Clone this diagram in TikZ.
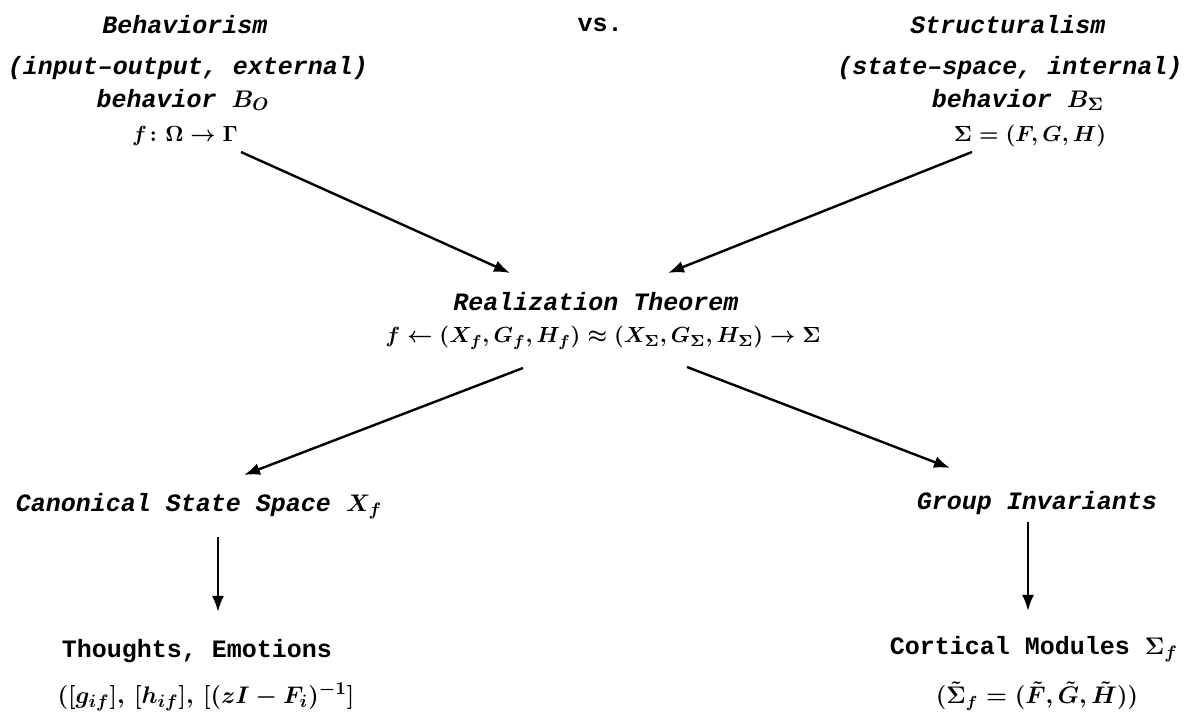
\documentclass[tikz,border=0pt]{standalone}
\usepackage[no-math]{fontspec}
\setmainfont{Liberation Mono}
\usepackage{amsmath,amssymb}
\usetikzlibrary{arrows.meta}

\begin{document}
\begin{tikzpicture}[x=0.5pt, y=-0.5pt,
  >={Latex[length=8pt, width=6pt]},
  hd/.style={font=\fontsize{12.5}{15}\selectfont\bfseries\itshape\boldmath, inner sep=0pt},
  tx/.style={font=\fontsize{12.5}{15}\selectfont\bfseries\boldmath, inner sep=0pt},
  fm/.style={font=\fontsize{#1}{13}\selectfont\boldmath, inner sep=0pt},
  fm/.default=11,
  arr/.style={->, line width=1.2pt},
]
\useasboundingbox (0,0) rectangle (1184,716);

% Top row: the two views
\node[hd] (behav) at (185,25) {Behaviorism};
\node[tx] (vs) at (600,25) {vs.};
\node[hd] (struct) at (1008,25) {Structuralism};

\node[hd] (behavio) at (188,68) {(input–output, external)};
\node[hd] (behavb) at (183,100) {behavior $B_O$};
\node[fm] (behavf) at (185,136) {$f\colon \Omega \to \Gamma$};

\node[hd] (structio) at (1010,68) {(state–space, internal)};
\node[hd] (structb) at (1018,100) {behavior $B_\Sigma$};
\node[fm] (structf) at (1030,136) {$\Sigma = (F,G,H)$};

% Middle: realization theorem
\node[hd] (realiz) at (596,302) {Realization Theorem};
\node[fm] (realizm) at (603,338)
  {$f \leftarrow (X_f,G_f,H_f) \approx (X_\Sigma,G_\Sigma,H_\Sigma) \rightarrow \Sigma$};

% Lower row
\node[hd] (canon) at (199,506) {Canonical State Space $X_f$};
\node[hd] (group) at (1037,503) {Group Invariants};

\node[tx] (thought) at (197,651) {Thoughts, Emotions};
\node[fm=12.5] (thoughtm) at (206,697) {$([g_{if}],\,[h_{if}],\,[(zI-F_i)^{-1}]$};

\node[tx] (cortic) at (1034,649) {Cortical Modules $\Sigma_f$};
\node[fm=12] (corticm) at (1037,696)
  {$(\tilde{\Sigma}_f = (\tilde{F},\tilde{G},\tilde{H}))$};

% Arrows
\draw[arr] ([shift={(56,16)}]behavf.center) -- ([shift={(-86,-29)}]realiz.center);
\draw[arr] ([shift={(-58,16)}]structf.center) -- ([shift={(72,-29)}]realiz.center);
\draw[arr] ([shift={(-80,30)}]realizm.center) -- ([shift={(45,-31)}]canon.center);
\draw[arr] ([shift={(84,29)}]realizm.center) -- ([shift={(-87,-35)}]group.center);
\draw[arr] ([shift={(19,31)}]canon.center) -- ([shift={(21,-39)}]thought.center);
\draw[arr] ([shift={(-9,19)}]group.center) -- ([shift={(-6,-38)}]cortic.center);

\end{tikzpicture}
\end{document}
